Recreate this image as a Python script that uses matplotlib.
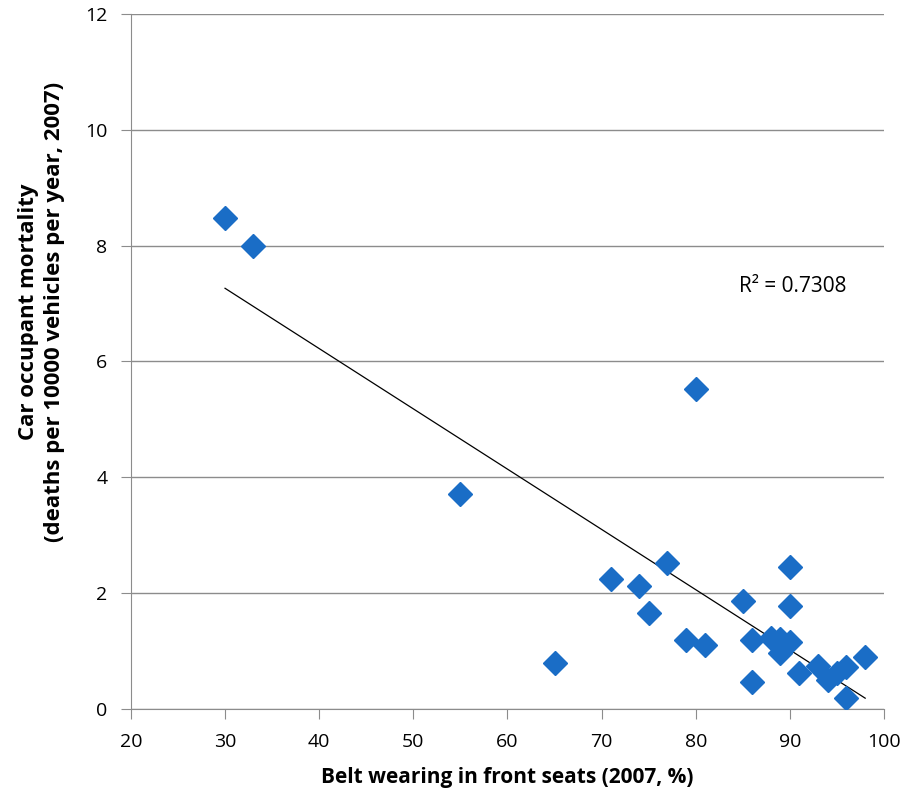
#!/usr/bin/env python

""" belt wearing vs car occupant mortality scatter with linear trend """

import numpy as np
import matplotlib
matplotlib.use("Agg")
import matplotlib.pyplot as plt

belt_wearing = [30, 33, 55, 65, 71, 74, 75, 77, 79, 80, 81, 85, 86, 86,
                88, 89, 89, 90, 90, 90, 91, 93, 94, 95, 96, 96, 98]
mortality = [8.48, 8.0, 3.72, 0.79, 2.24, 2.12, 1.65, 2.52, 1.19, 5.53, 1.10,
             1.86, 1.20, 0.46, 1.23, 1.21, 0.96, 2.46, 1.78, 1.16, 0.63,
             0.75, 0.50, 0.63, 0.72, 0.19, 0.89]
r_squared_label = "R² = 0.7308"


def main():
    """ main body """
    plt.rcParams['font.family'] = ['Open Sans', 'DejaVu Sans']
    fig = plt.figure(figsize=(9.09, 7.98), dpi=100)
    ax = fig.add_axes([0.144, 0.1115, 0.8285, 0.871])

    x = np.array(belt_wearing, dtype=float)
    y = np.array(mortality, dtype=float)

    # linear trend over the data range
    slope, intercept = np.polyfit(x, y, 1)
    xs = np.array([x.min(), x.max()])
    ax.plot(xs, slope * xs + intercept, color='black', lw=0.9, zorder=2)

    ax.plot(x, y, ls='none', marker='D', markersize=12.5, color='#1A6DC6',
            markeredgecolor='#1A6DC6', zorder=3)

    ax.text(84.6, 7.3, r_squared_label, fontsize=15, ha='left', va='center')

    ax.set_xlim(20, 100)
    ax.set_ylim(0, 12)
    ax.set_xticks(np.arange(20, 101, 10))
    ax.set_yticks(np.arange(0, 13, 2))
    ax.yaxis.grid(True, color='#8c8c8c', lw=1)
    ax.set_axisbelow(True)
    for side in ('top', 'right'):
        ax.spines[side].set_visible(False)
    for side in ('left', 'bottom'):
        ax.spines[side].set_color('#8c8c8c')
    ax.tick_params(direction='out', length=7, color='#8c8c8c',
                   labelsize=14, pad=10)

    ax.set_xlabel("Belt wearing in front seats (2007, %)", fontsize=15,
                  fontweight='bold', labelpad=12)
    ax.set_ylabel("Car occupant mortality\n(deaths per 10000 vehicles per year, 2007)",
                  fontsize=16, fontweight='bold', linespacing=1.3)
    ax.yaxis.set_label_coords(-0.088, 0.571)

    plt.savefig("out.png", dpi=100)
    plt.close()


if __name__ == "__main__":
    main()
